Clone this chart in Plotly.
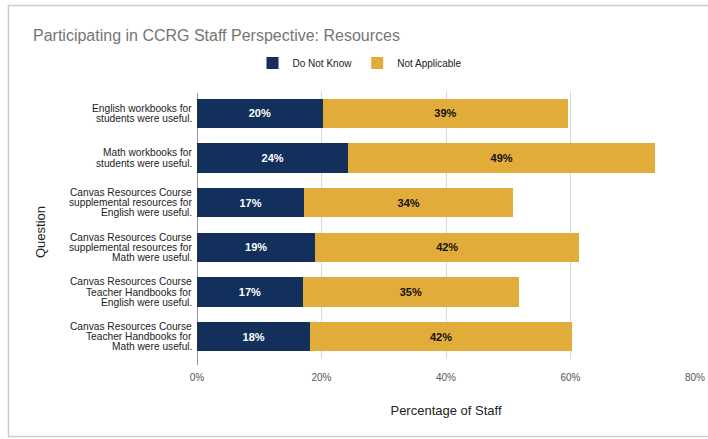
import plotly.graph_objects as go

questions = [
    "English workbooks for<br>students were useful.",
    "Math workbooks for<br>students were useful.",
    "Canvas Resources Course<br>supplemental resources for<br>English were useful.",
    "Canvas Resources Course<br>supplemental resources for<br>Math were useful.",
    "Canvas Resources Course<br>Teacher Handbooks for<br>English were useful.",
    "Canvas Resources Course<br>Teacher Handbooks for<br>Math were useful.",
]
do_not_know = [20.2, 24.3, 17.2, 19.0, 17.0, 18.2]
not_applicable = [39.4, 49.3, 33.6, 42.4, 34.7, 42.0]
x_ticks = [0, 20, 40, 60, 80]
x_tick_labels = ["0%", "20%", "40%", "60%", "80%"]

FONT = "Liberation Sans, Arial, sans-serif"
W, H = 708, 439
L, R, T, B = 197, 13, 91, 80
pw, ph = W - L - R, H - T - B

def px_x(x):
    return (x - L) / pw

def px_y(y):
    return (H - B - y) / ph

fig = go.Figure()
fig.add_trace(go.Bar(
    y=questions, x=do_not_know, orientation="h", name="Do Not Know",
    marker=dict(color="#132f5b", line=dict(width=0)),
    texttemplate="%{x:.0f}%", textposition="inside", insidetextanchor="middle",
    textfont=dict(family=FONT, size=11, color="white", weight="bold"),
    hoverinfo="skip",
))
fig.add_trace(go.Bar(
    y=questions, x=not_applicable, orientation="h", name="Not Applicable",
    marker=dict(color="#e2ac3b", line=dict(width=0)),
    texttemplate="%{x:.0f}%", textposition="inside", insidetextanchor="middle",
    textfont=dict(family=FONT, size=11, color="#111111", weight="bold"),
    hoverinfo="skip",
))

fig.update_layout(
    width=W, height=H,
    barmode="stack", bargap=0.35,
    margin=dict(l=L, r=R, t=T, b=B, autoexpand=False),
    paper_bgcolor="white", plot_bgcolor="white",
    font=dict(family=FONT, color="#222222", size=11),
    title=dict(
        text="Participating in CCRG Staff Perspective: Resources",
        xref="container", yref="container",
        x=33 / W, xanchor="left", y=1 - 35 / H, yanchor="middle",
        font=dict(family=FONT, size=16, color="#757575"),
    ),
    legend=dict(
        orientation="h", xref="container", yref="container",
        x=360 / W, xanchor="center", y=1 - 63 / H, yanchor="middle",
        font=dict(family=FONT, size=10, color="#222222"),
        itemwidth=30, traceorder="normal",
    ),
    xaxis=dict(
        range=[0, 80], tickvals=x_ticks, ticktext=x_tick_labels,
        showgrid=True, gridcolor="#d9d9d9", gridwidth=1,
        zeroline=False, showline=False,
        tickfont=dict(family=FONT, size=10, color="#555555"),
        ticks="", ticklabelstandoff=11,
        title=dict(text="Percentage of Staff",
                   font=dict(family=FONT, size=13, color="#222222"),
                   standoff=23),
    ),
    yaxis=dict(
        autorange="reversed", showgrid=False, zeroline=False,
        showline=False, showticklabels=False, ticks="",
    ),
    showlegend=True,
)

# y category labels, drawn line by line with tight line spacing
LINE = 10.3
for q in questions:
    lines = q.split("<br>")
    n = len(lines)
    for i, ln in enumerate(lines):
        off = ((n - 1) / 2 - i) * LINE
        fig.add_annotation(text=ln, xref="paper", yref="y", x=px_x(194), y=q,
                           yshift=off, showarrow=False, xanchor="right",
                           yanchor="middle",
                           font=dict(family=FONT, size=10.2, color="#222222"))

# axis line at 0 extending slightly beyond plot
fig.add_shape(type="line", xref="x", yref="paper", x0=0, x1=0,
              y0=px_y(359 + 6), y1=px_y(93), line=dict(color="#333333", width=1))

# y-axis title
fig.add_annotation(text="Question", xref="paper", yref="paper",
                   x=px_x(40), y=px_y(232), textangle=-90, showarrow=False,
                   xanchor="center", yanchor="middle",
                   font=dict(family=FONT, size=13, color="#222222"))

# card border
fig.add_shape(type="rect", xref="paper", yref="paper",
              x0=px_x(8.5), x1=px_x(715), y0=px_y(436.5), y1=px_y(5.5),
              line=dict(color="#cccccc", width=1.5), fillcolor="rgba(0,0,0,0)",
              layer="below")

fig.write_html("out.html", config={"displayModeBar": False},
               post_script="document.body.style.margin='0';document.body.style.overflow='hidden';")
